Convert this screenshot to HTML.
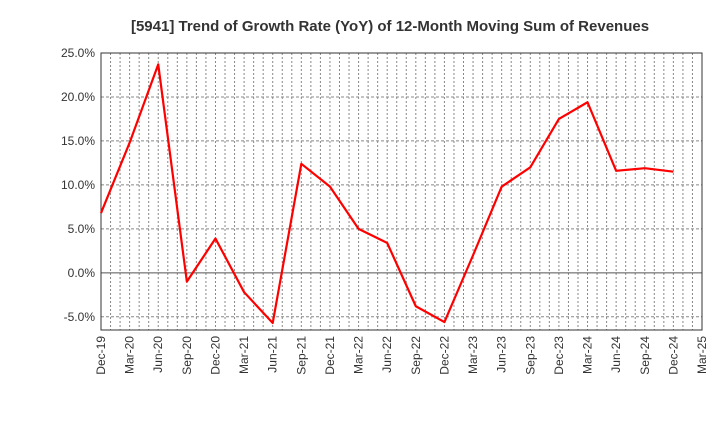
<!DOCTYPE html>
<html><head><meta charset="utf-8"><style>
body{margin:0;background:#fff;font-family:"Liberation Sans",sans-serif}
</style></head><body>
<svg width="720" height="440" xmlns="http://www.w3.org/2000/svg">
<text x="390" y="31" text-anchor="middle" font-size="15" font-weight="bold" fill="#333">[5941]  Trend of Growth Rate (YoY) of 12-Month Moving Sum of Revenues</text>
<g id="grid"></g><g id="axes"></g><g id="series"></g>
</svg>
<script>
const categories=["Dec-19","Mar-20","Jun-20","Sep-20","Dec-20","Mar-21","Jun-21","Sep-21","Dec-21","Mar-22","Jun-22","Sep-22","Dec-22","Mar-23","Jun-23","Sep-23","Dec-23","Mar-24","Jun-24","Sep-24","Dec-24","Mar-25"];
const values=[6.8,14.8,23.7,-1.0,3.9,-2.2,-5.7,12.4,9.8,5.0,3.4,-3.8,-5.6,2.0,9.8,12.0,17.5,19.4,11.6,11.9,11.5];
const yTicks=[25,20,15,10,5,0,-5];
const yTickLabels=["25.0%","20.0%","15.0%","10.0%","5.0%","0.0%","-5.0%"];
const L=101,R=702,T=53,B=330,yMax=25,yMin=-6.5;
const NS="http://www.w3.org/2000/svg";
const xS=i=>L+(R-L)*i/(categories.length-1);
const yS=v=>T+(yMax-v)*(B-T)/(yMax-yMin);
function mk(p,tag,a){const e=document.createElementNS(NS,tag);for(const k in a)e.setAttribute(k,a[k]);p.appendChild(e);return e;}
const grid=document.getElementById('grid'),axes=document.getElementById('axes'),series=document.getElementById('series');
const months=(categories.length-1)*3;
for(let m=1;m<months;m++){const x=L+(R-L)*m/months;
 const l=mk(grid,'line',{x1:x,x2:x,y1:T,y2:B,stroke:'#888','stroke-width':1,'stroke-dasharray':'2,2'});
 
 }
yTicks.forEach((v,i)=>{const y=yS(v);
 const l=mk(grid,'line',{x1:L,x2:R,y1:y,y2:y,stroke:v===0?'#555':'#888','stroke-width':1,'stroke-dasharray':v===0?'none':'3,2'});
 
 
 const t=mk(axes,'text',{x:L-6,y:y+4,'text-anchor':'end','font-size':12,fill:'#333'});t.textContent=yTickLabels[i];
 
 });
const fr=mk(axes,'rect',{x:L,y:T,width:R-L,height:B-T,fill:'none',stroke:'#333','stroke-width':1});


categories.forEach((c,i)=>{const x=xS(i);
 const t=mk(axes,'text',{x:x+4,y:B+6,'text-anchor':'end','font-size':12,fill:'#333',transform:`rotate(-90 ${x+4} ${B+6})`});t.textContent=c;
 
 });
const pl=mk(series,'polyline',{points:values.map((v,i)=>xS(i)+','+yS(v)).join(' '),fill:'none',stroke:'#ff0000','stroke-width':2.2,'stroke-linejoin':'round'});


</script>
</body></html>
